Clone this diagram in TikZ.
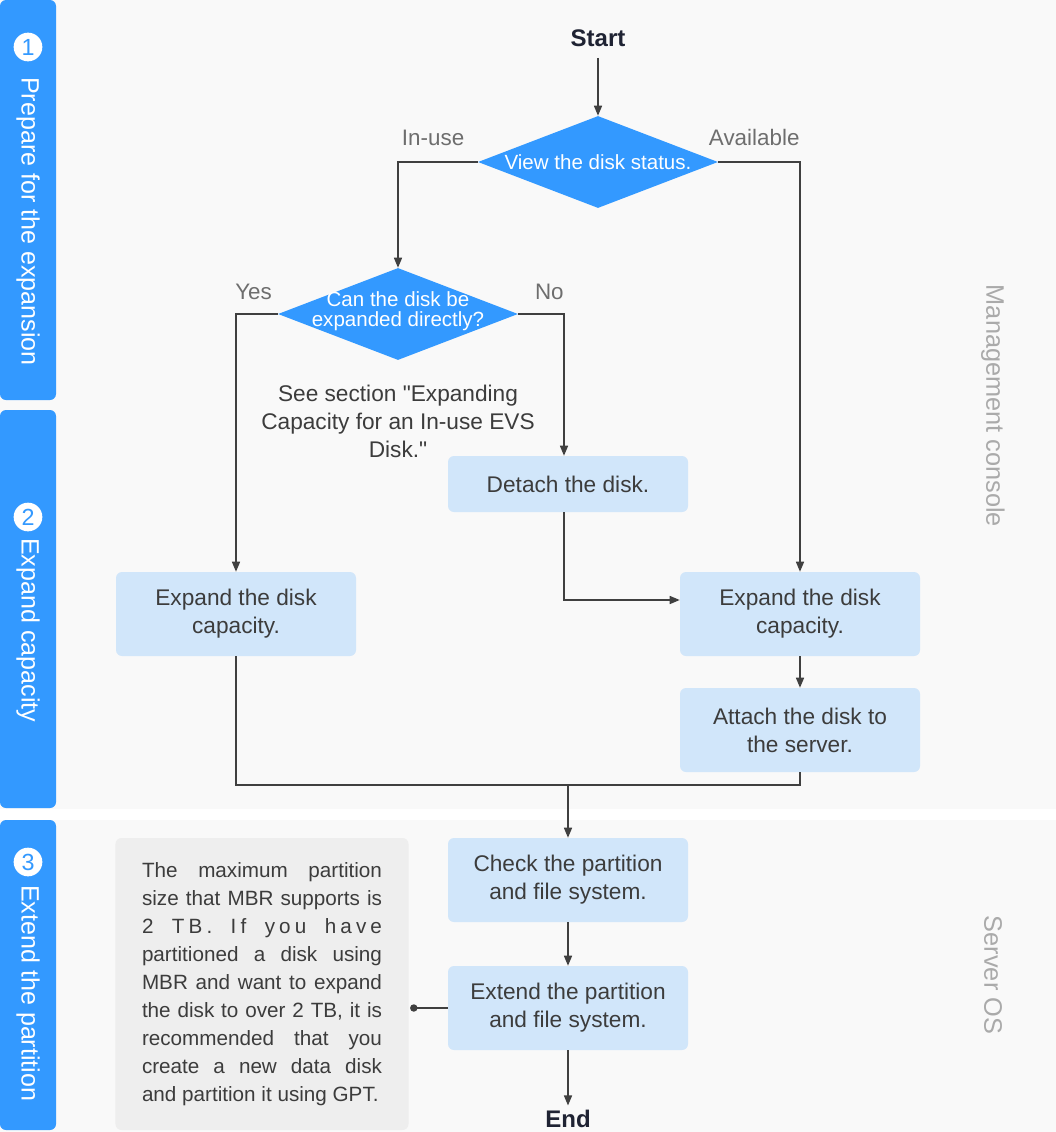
\documentclass[tikz,border=0pt]{standalone}
\usepackage{fontspec}
\setmainfont{Liberation Sans}
\usetikzlibrary{shapes.geometric,arrows.meta}
\font\quotefont="Liberation Sans" at 17pt
\newcommand\dq{{\quotefont\char34}}
\definecolor{bandblue}{HTML}{3399FF}
\definecolor{boxblue}{HTML}{D1E6FA}
\definecolor{panelgray}{HTML}{F9F9F9}
\definecolor{notegray}{HTML}{EEEEEE}
\definecolor{linegray}{HTML}{404040}
\definecolor{textgray}{HTML}{3C3C3C}
\definecolor{labelgray}{HTML}{6E6E6E}
\definecolor{sidegray}{HTML}{AAAAAA}
\definecolor{termblue}{HTML}{1F2333}
\tikzset{
	stepbox/.style={fill=boxblue,rounded corners=4.5pt,minimum width=180pt,inner sep=0pt,align=center,text=textgray,font=\fontsize{17}{21}\selectfont},
	decision/.style={diamond,fill=bandblue,minimum width=180pt,minimum height=69pt,inner sep=0pt},
	decisiontext/.style={text=white,align=center,font=\fontsize{15.4}{15}\selectfont},
	notebox/.style={fill=notegray,rounded corners=4.5pt,text width=180pt,inner xsep=19.9pt,minimum height=219pt,align=justify,text=textgray,font=\fontsize{15.5}{21}\selectfont},
	arr/.style={draw=linegray,line width=1.1pt,-{Triangle[length=7.5pt,width=6pt]}},
	link/.style={draw=linegray,line width=1.1pt},
	band/.style={fill=bandblue,rounded corners=4.5pt},
	bandtext/.style={rotate=-90,anchor=west,text=white,font=\fontsize{18.8}{22}\selectfont,inner sep=0pt},
	bandnum/.style={circle,fill=white,text=bandblue,minimum size=21.5pt,inner sep=0pt,font=\fontsize{17.5}{17.5}\selectfont},
	sidetext/.style={rotate=-90,text=sidegray,font=\fontsize{19}{22}\selectfont},
	yesno/.style={text=labelgray,font=\fontsize{16.8}{20}\selectfont},
	terminal/.style={text=termblue,font=\bfseries\fontsize{18}{22}\selectfont},
}
\begin{document}
\begin{tikzpicture}[x=0.75pt,y=-0.75pt]
	\useasboundingbox (0,0) rectangle (1056,1132);
	\fill[panelgray] (0,0) rectangle (1056,809);
	\fill[panelgray] (0,820) rectangle (1056,1132);
	\fill[band] (0,0) rectangle (56,400);
	\fill[band] (0,410) rectangle (56,808);
	\fill[band] (0,820) rectangle (56,1130);
	\node[bandnum] (num1) at (28,47) {1};
	\node[bandtext] (phase1) at (28,77) {Prepare for the expansion};
	\node[bandnum] (num2) at (28,517) {2};
	\node[bandtext] (phase2) at (28,538) {Expand capacity};
	\node[bandnum] (num3) at (28,862) {3};
	\node[bandtext] (phase3) at (28,885) {Extend the partition};
	\node[sidetext] (console) at (993,406) {Management console};
	\node[sidetext] (os) at (993,975) {Server OS};

	\node[terminal] (start) at (598,38) {Start};
	\node[decision,label={[decisiontext]center:View the disk status.}] (status) at (598,162) {};
	\node[decision,label={[decisiontext,yshift=2pt]center:Can the disk be\\expanded directly?}] (direct) at (398,314) {};
	\node[text=textgray,align=center,font=\fontsize{17}{21}\selectfont] (see) at (398,421) {See section \dq Expanding\\Capacity for an In-use EVS\\Disk.\dq};
	\node[stepbox,minimum height=42pt] (detach) at (568,484) {Detach the disk.};
	\node[stepbox,minimum height=63pt] (expleft) at (236,614) {Expand the disk\\capacity.};
	\node[stepbox,minimum height=63pt] (expright) at (800,614) {Expand the disk\\capacity.};
	\node[stepbox,minimum height=63pt] (attach) at (800,730) {Attach the disk to\\the server.};
	\node[stepbox,minimum height=63pt] (check) at (568,880) {Check the partition\\and file system.};
	\node[stepbox,minimum height=63pt] (extend) at (568,1008) {Extend the partition\\and file system.};
	\node[terminal] (end) at (568,1119) {End};
	\node[notebox] (note) at (262,984) {The maximum partition\linebreak size that MBR supports is\linebreak {\addfontfeature{LetterSpace=20}2 TB. If you have}\linebreak partitioned a disk using\linebreak MBR and want to expand\linebreak the disk to over 2 TB, it is\linebreak recommended that you\linebreak create a new data disk\linebreak and partition it using GPT.};
	\coordinate (merge) at (568,785);

	\draw[arr,shorten <=5pt] (start) -- (status.north);
	\draw[arr] (status.west) -| node[yesno,pos=0.28,above=8pt]{In-use} (direct.north);
	\draw[arr] (status.east) -| node[yesno,pos=0.22,above=8pt]{Available} (expright.north);
	\draw[arr] (direct.west) -| node[yesno,pos=0.29,above=7pt]{Yes} (expleft.north);
	\draw[arr] (direct.east) -| node[yesno,pos=0.34,above=7pt]{No} ([xshift=-3pt]detach.north);
	\draw[arr] ([xshift=-3pt]detach.south) |- ([yshift=10.5pt]expright.west);
	\draw[arr] (expright) -- (attach);
	\draw[link] (expleft.south) |- (merge) -| (attach.south);
	\draw[arr] (merge) -- (check.north);
	\draw[arr] (check) -- (extend);
	\draw[arr] (extend) -- (end);
	\draw[link,-{Circle[length=5.5pt]}] (extend.west) -- ([xshift=1pt]note.east |- extend.west);
\end{tikzpicture}
\end{document}
